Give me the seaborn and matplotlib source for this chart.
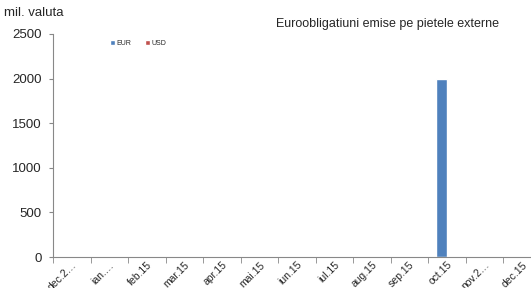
import matplotlib
matplotlib.use("Agg")
import matplotlib.pyplot as plt
import seaborn as sns
import pandas as pd
from matplotlib.ticker import FixedLocator

# Chart data
months = ["dec.2…", "ian.…", "feb.15", "mar.15", "apr.15", "mai.15", "iun.15",
          "iul.15", "aug.15", "sep.15", "oct.15", "nov.2…", "dec.15"]
eur = [0, 0, 0, 0, 0, 0, 0, 0, 0, 0, 2000, 0, 0]
usd = [0, 0, 0, 0, 0, 0, 0, 0, 0, 0, 0, 0, 0]

df = pd.DataFrame({
    "Luna": months * 2,
    "Valoare": eur + usd,
    "Valuta": ["EUR"] * len(months) + ["USD"] * len(months),
})

sns.set_style("white")
plt.rcParams["font.family"] = ["Liberation Sans", "DejaVu Sans"]

fig = plt.figure(figsize=(5.31, 2.88), dpi=100)
# axis runs slightly past the right edge of the figure, like the original
ax = fig.add_axes([53 / 531, 1 - 257 / 288, 487.5 / 531, 223 / 288])

sns.barplot(data=df, x="Luna", y="Valoare", hue="Valuta",
            palette={"EUR": "#4F81BD", "USD": "#C0504D"},
            width=0.6, saturation=1, ax=ax, legend=True)

ax.set_xlim(-0.5, len(months) - 0.5)
ax.set_ylim(0, 2500)
ax.set_yticks([0, 500, 1000, 1500, 2000, 2500])
ax.tick_params(axis="y", labelsize=9.5, length=3, color="#888888", direction="out",
               pad=5, left=True)
ax.set_xlabel("")
ax.set_ylabel("")
ax.set_xticks(range(len(months)))
ax.set_xticklabels(months, rotation=45, ha="right", va="top",
                   rotation_mode="anchor", fontsize=7.5)
ax.tick_params(axis="x", length=0, pad=2)
ax.xaxis.set_minor_locator(FixedLocator([i - 0.5 for i in range(len(months) + 1)]))
ax.tick_params(axis="x", which="minor", length=4, color="#888888", direction="out",
               bottom=True)

for s in ["top", "right"]:
    ax.spines[s].set_visible(False)
ax.spines["left"].set_color("#888888")
ax.spines["bottom"].set_color("#888888")
ax.spines["left"].set_linewidth(0.8)
ax.spines["bottom"].set_linewidth(0.8)

leg = ax.legend(loc="upper left", bbox_to_anchor=(0.105, 1.0), ncol=2, frameon=False,
                fontsize=5, handlelength=0.7, handleheight=0.7, handletextpad=0.2,
                columnspacing=2.0)

fig.text(0.008, 0.935, "mil. valuta", fontsize=9.5, ha="left", va="bottom")
fig.text(0.73, 0.895, "Euroobligatiuni emise pe pietele externe", fontsize=9,
         ha="center", va="bottom")

fig.savefig("out.png", dpi=100)
